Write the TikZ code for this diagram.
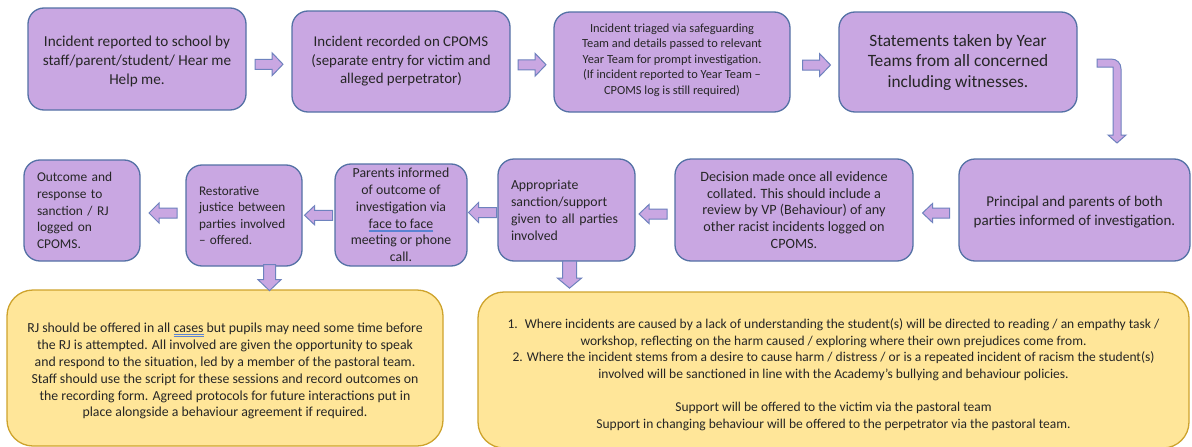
\documentclass[tikz,border=0pt]{standalone}
\usepackage{fontspec}
\setmainfont{Carlito}
\usetikzlibrary{calc}
\definecolor{boxfill}{RGB}{201,167,226}
\definecolor{boxline}{RGB}{84,113,165}
\definecolor{arrfill}{RGB}{201,167,226}
\definecolor{arrline}{RGB}{110,130,190}
\definecolor{yfill}{RGB}{255,230,153}
\definecolor{yline}{RGB}{206,163,44}
\definecolor{txt}{RGB}{38,38,38}
\definecolor{gram}{RGB}{90,130,210}
\newcommand\fs[2]{\fontsize{#1pt}{#2pt}\selectfont}
\newcommand\topstrut[1]{\rule{0pt}{#1pt}}
\newcommand\gramu[1]{\setbox0\hbox{#1}\rlap{\color{gram}\rule[-2.2pt]{\wd0}{0.6pt}}\rlap{\color{gram}\rule[-3.8pt]{\wd0}{0.6pt}}#1}
\tikzset{
  box/.style={draw=boxline, fill=boxfill, line width=1.3pt, rounded corners=16pt, text=txt, inner sep=0pt},
  ybox/.style={draw=yline, fill=yfill, line width=1.3pt, rounded corners=26pt, text=txt, inner sep=0pt, align=center},
  arrowst/.style={draw=arrline, fill=arrfill, line width=1pt, line join=miter},
  pics/barrow/.style n args={4}{code={\draw[arrowst] ({-#1/2},{-#3/2}) -- ({#1/2-#4},{-#3/2}) -- ({#1/2-#4},{-#2/2}) -- ({#1/2},0) -- ({#1/2-#4},{#2/2}) -- ({#1/2-#4},{#3/2}) -- ({-#1/2},{#3/2}) -- cycle;}}
}
\begin{document}
\begin{tikzpicture}[x=1pt,y=-1pt]
\useasboundingbox[fill=white] (0,0) rectangle (1192,447);
% top row
\node[box, minimum width=218pt, minimum height=102pt, align=center, font=\fs{15.2}{18.8}] (b1) at (137,59)
  {\topstrut{15}Incident reported to school by\\staff/parent/student/ Hear me\\Help me.};
\node[box, minimum width=218pt, minimum height=101pt, align=center, font=\fs{14.9}{18.6}] (b2) at (401,61.5)
  {Incident recorded on CPOMS\\(separate entry for victim and\\alleged perpetrator)};
\node[box, minimum width=236pt, minimum height=100pt, align=center, font=\fs{12.4}{15.4}, text depth=6pt] (b3) at (672,62)
  {Incident triaged via safeguarding\\Team and details passed to relevant\\Year Team for prompt investigation.\\(If incident reported to Year Team –\\CPOMS log is still required)};
\node[box, minimum width=238pt, minimum height=100pt, align=center, font=\fs{17.3}{20.5}] (b4) at (958,62)
  {Statements taken by Year\\Teams from all concerned\\including witnesses.};
% second row
\node[box, minimum width=231pt, minimum height=102pt, align=center, font=\fs{15}{19}] (b5) at (1074.5,210)
  {\topstrut{14}Principal and parents of both\\parties informed of investigation.};
\node[box, minimum width=238pt, minimum height=102pt, align=center, font=\fs{14.2}{16.8}] (b6) at (794,210)
  {Decision made once all evidence\\collated. This should include a\\review by VP (Behaviour) of any\\other racist incidents logged on\\CPOMS.};
\node[box, minimum width=137pt, minimum height=102pt, align=left, text width=111pt, font=\fs{13.8}{17}] (b7) at (566.5,210)
  {Appropriate\\sanction/support\\given to all parties\\involved};
\node[box, minimum width=132pt, minimum height=102pt, align=center, font=\fs{13.8}{16.8}] (b8) at (401,215)
  {Parents informed\\of outcome of\\investigation via\\\gramu{face to face}\\meeting or phone\\call.};
\node[box, minimum width=116pt, minimum height=101pt, align=left, text width=90pt, font=\fs{13.2}{16.2}] (b9) at (244,215.5)
  {Restorative\\justice between\\parties involved\\– offered.};
\node[box, minimum width=116pt, minimum height=101pt, align=left, text width=90pt, font=\fs{13.4}{16.7}] (b10) at (82,210.5)
  {Outcome and\\response to\\sanction / RJ\\logged on\\CPOMS.};
% yellow boxes
\node[ybox, minimum width=436pt, minimum height=156pt, font=\fs{13.8}{16.8}] (y1) at (225,368)
  {\topstrut{16}RJ should be offered in all \gramu{cases} but pupils may need some time before\\the RJ is attempted. All involved are given the opportunity to speak\\and respond to the situation, led by a member of the pastoral team.\\Staff should use the script for these sessions and record outcomes on\\the recording form. Agreed protocols for future interactions put in\\place alongside a behaviour agreement if required.};
\node[ybox, minimum width=711pt, minimum height=156pt, font=\fs{13.5}{16.6}] (y2) at (833.5,370)
  {\topstrut{19}1.~ Where incidents are caused by a lack of understanding the student(s) will be directed to reading / an empathy task /\\workshop, reflecting on the harm caused / exploring where their own prejudices come from.\\2. Where the incident stems from a desire to cause harm / distress / or is a repeated incident of racism the student(s)\\involved will be sanctioned in line with the Academy’s bullying and behaviour policies.\\[16.6pt]Support will be offered to the victim via the pastoral team\\Support in changing behaviour will be offered to the perpetrator via the pastoral team.};
% block arrows
\pic at ($(b1.east)!0.5!(b2.west)+(0,4)$) {barrow={28}{23}{10}{11}};
\pic at ($(b2.east)!0.5!(b3.west)+(0,3)$) {barrow={28}{23}{10}{11}};
\pic at ($(b3.east)!0.5!(b4.west)+(2,3)$) {barrow={28}{23}{10}{11}};
\draw[arrowst] (1097,59) -- (1111,59) .. controls (1117,59) and (1121,63) .. (1121,69) -- (1121,135) -- (1126,135) -- (1117,143) -- (1108,135) -- (1113,135) -- (1113,67) -- (1097,67) -- cycle;
\pic[rotate=180] at ($(b6.east)!0.5!(b5.west)+(0,3)$) {barrow={27}{19}{10}{10}};
\pic[rotate=180] at ($(b7.east)!0.5!(b6.west)+(-2,4)$) {barrow={28}{19}{10}{10}};
\pic[rotate=180] at ($(b8.east)!0.5!(b7.west)$) {barrow={28}{20}{10}{10}};
\pic[rotate=180] at ($(b9.east)!0.5!(b8.west)$) {barrow={28}{19}{10}{10}};
\pic[rotate=180] at ($(b10.east)!0.5!(b9.west)$) {barrow={28}{20}{10}{10}};
\pic[rotate=-90] at ($(b7.south)+(3,13)$) {barrow={27}{24}{14}{10}};
\pic[rotate=-90] at ($(b9.south)+(25.5,11)$) {barrow={26}{23}{12}{11}};
\end{tikzpicture}
\end{document}
